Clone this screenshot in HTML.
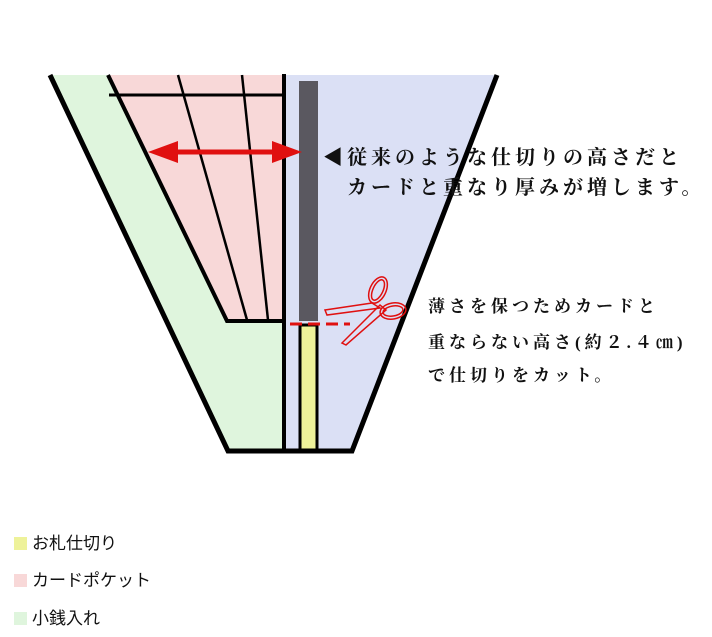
<!DOCTYPE html>
<html><head><meta charset="utf-8"><style>
body{margin:0;background:#fff;width:712px;height:637px;overflow:hidden;position:relative;font-family:"Liberation Serif","Noto Serif CJK SC",serif}
.t{position:absolute;color:#111;font-weight:bold;white-space:nowrap}
.lg{position:absolute;left:14px;font-family:"Liberation Sans","Noto Sans CJK JP",sans-serif;font-size:17px;color:#111}
.lg span{display:inline-block;width:13px;height:13px;margin-right:5px;vertical-align:-1px}
</style></head><body>
<svg width="712" height="637" style="position:absolute;left:0;top:0">
<polygon points="50,75 283,75 283,450 228,450" fill="#dff5dd"/>
<polygon points="108,75 283,75 283,321 227,321" fill="#f8d8d8"/>
<polygon points="285,75 497,75 352,450 285,450" fill="#dbe0f5"/>
<g stroke="#000" fill="none">
<polyline points="50,75 228,451 352,451 497,75" stroke-width="5"/>
<polyline points="108,75 227,321 283,321" stroke-width="4"/>
<line x1="109" y1="95" x2="283" y2="95" stroke-width="3"/>
<line x1="178" y1="75" x2="247" y2="320" stroke-width="2.5"/>
<line x1="242" y1="75" x2="268" y2="320" stroke-width="2.5"/>
<line x1="284" y1="74" x2="284" y2="453" stroke-width="4"/>
</g>
<rect x="299" y="81" width="19" height="240" fill="#5a5860"/>
<rect x="300" y="325" width="17" height="125" fill="#eef29a" stroke="#000" stroke-width="3"/>
<line x1="290" y1="324" x2="350" y2="324" stroke="#e01010" stroke-width="3" stroke-dasharray="12,6"/>
<line x1="160" y1="152" x2="290" y2="152" stroke="#e01010" stroke-width="5"/>
<polygon points="148,152 178,141 178,163" fill="#e01010"/>
<polygon points="302,152 272,141 272,163" fill="#e01010"/>
<g fill="none" stroke="#e01010" stroke-width="1.5">
<ellipse cx="378" cy="290" rx="8" ry="14" transform="rotate(25 378 290)"/>
<ellipse cx="378" cy="290" rx="5" ry="11" transform="rotate(25 378 290)"/>
<ellipse cx="393" cy="311" rx="13" ry="8" transform="rotate(-10 393 311)"/>
<ellipse cx="393" cy="311" rx="10" ry="5" transform="rotate(-10 393 311)"/>
<polygon points="372,303 325,310 327,315 380,308"/>
<polygon points="380,305 342,343 346,345 386,310"/>
</g>
</svg>
<div class="t" style="left:323px;top:141px;font-size:20px;letter-spacing:4px">◀従来のような仕切りの高さだと</div>
<div class="t" style="left:347px;top:171px;font-size:20px;letter-spacing:4px">カードと重なり厚みが増します。</div>
<div class="t" style="left:428px;top:292px;font-size:17px;letter-spacing:4px">薄さを保つためカードと</div>
<div class="t" style="left:428px;top:328px;font-size:17px;letter-spacing:4px">重ならない高さ(約２.４㎝)</div>
<div class="t" style="left:428px;top:361px;font-size:17px;letter-spacing:4px">で仕切りをカット。</div>
<div class="lg" style="top:529px"><span style="background:#eef29a"></span>お札仕切り</div>
<div class="lg" style="top:566px"><span style="background:#f8d8d8"></span>カードポケット</div>
<div class="lg" style="top:604px"><span style="background:#dff5dd"></span>小銭入れ</div>
</body></html>
